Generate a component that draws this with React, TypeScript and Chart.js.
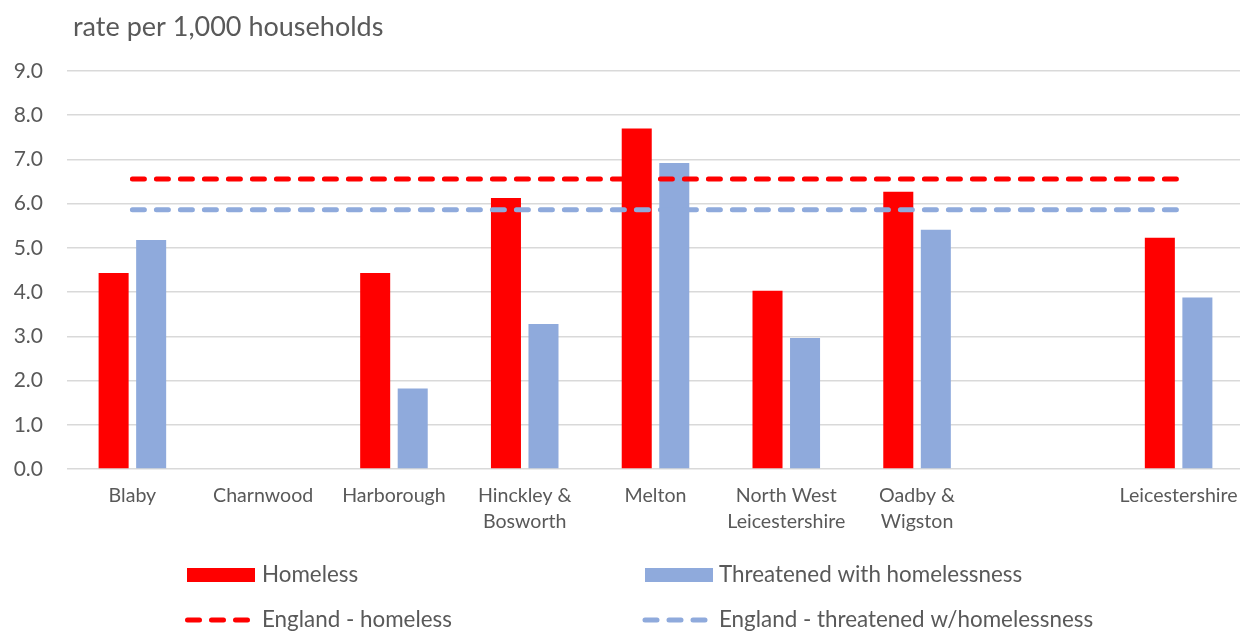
import React, { useEffect, useRef } from "react";
import { Chart, registerables } from "chart.js";

Chart.register(...registerables);

const categories: string[][] = [
  ["Blaby"],
  ["Charnwood"],
  ["Harborough"],
  ["Hinckley &", "Bosworth"],
  ["Melton"],
  ["North West", "Leicestershire"],
  ["Oadby &", "Wigston"],
  [""],
  ["Leicestershire"],
];
const homeless: (number | null)[] = [4.43, null, 4.43, 6.13, 7.7, 4.03, 6.27, null, 5.23];
const threatened: (number | null)[] = [5.18, null, 1.82, 3.28, 6.92, 2.96, 5.41, null, 3.88];
const englandHomeless = 6.56;
const englandThreatened = 5.86;
const yTicks = [0, 1, 2, 3, 4, 5, 6, 7, 8, 9];
const titleText = "rate per 1,000 households";
const legendLabels = ["Homeless", "Threatened with homelessness", "England - homeless", "England - threatened w/homelessness"];

const RED = "#FF0000";
const BLUE = "#8FAADC";
const TEXT = "#595959";
const FONT = "Lato";

export default function App() {
  const ref = useRef<HTMLCanvasElement>(null);
  useEffect(() => {
    if (!ref.current) return;
    const overlay = {
      id: "overlay",
      afterDraw(chart: any) {
        const ctx = chart.ctx as CanvasRenderingContext2D;
        ctx.save();
        ctx.fillStyle = TEXT;
        ctx.textBaseline = "middle";
        ctx.textAlign = "left";
        ctx.font = `27px ${FONT}`;
        ctx.fillText(titleText, 73, 27);
        ctx.font = `22.4px ${FONT}`;
        // row 1 boxes
        ctx.fillStyle = RED;
        ctx.fillRect(187, 568, 68, 14);
        ctx.fillStyle = BLUE;
        ctx.fillRect(645, 568, 68, 14);
        ctx.fillStyle = TEXT;
        ctx.fillText(legendLabels[0], 262, 575);
        ctx.fillText(legendLabels[1], 719, 575);
        // row 2 dashed
        ctx.lineWidth = 5;
        ctx.lineCap = "round";
        ctx.setLineDash([12, 12]);
        ctx.strokeStyle = RED;
        ctx.beginPath();
        ctx.moveTo(187.5, 620);
        ctx.lineTo(248, 620);
        ctx.stroke();
        ctx.strokeStyle = BLUE;
        ctx.beginPath();
        ctx.moveTo(645, 620);
        ctx.lineTo(705.5, 620);
        ctx.stroke();
        ctx.setLineDash([]);
        ctx.fillText(legendLabels[2], 262, 620);
        ctx.fillText(legendLabels[3], 719, 620);
        ctx.restore();
      },
    };
    const chart = new Chart(ref.current, {
      type: "bar",
      data: {
        labels: categories,
        datasets: [
          {
            type: "line",
            label: legendLabels[2],
            data: categories.map(() => englandHomeless),
            borderColor: RED,
            borderWidth: 5,
            borderDash: [12, 12],
            borderCapStyle: "round",
            pointRadius: 0,
            order: 0,
          },
          {
            type: "line",
            label: legendLabels[3],
            data: categories.map(() => englandThreatened),
            borderColor: BLUE,
            borderWidth: 5,
            borderDash: [12, 12],
            borderCapStyle: "round",
            pointRadius: 0,
            order: 0,
          },
          {
            type: "bar",
            label: legendLabels[0],
            data: homeless,
            backgroundColor: RED,
            categoryPercentage: 0.574,
            barPercentage: 0.8,
            order: 1,
          },
          {
            type: "bar",
            label: legendLabels[1],
            data: threatened,
            backgroundColor: BLUE,
            categoryPercentage: 0.574,
            barPercentage: 0.8,
            order: 1,
          },
        ] as any,
      },
      options: {
        animation: false,
        responsive: false,
        devicePixelRatio: 1,
        layout: { padding: { top: 71, left: 0, right: 0, bottom: 0 } },
        plugins: { legend: { display: false }, tooltip: { enabled: false }, title: { display: false } },
        scales: {
          x: {
            grid: { display: false, drawTicks: false },
            border: { display: false },
            ticks: {
              color: TEXT,
              font: { family: FONT, size: 19.6, lineHeight: 26 / 19.6 },
              padding: 14,
              maxRotation: 0,
              autoSkip: false,
            },
            afterFit: (s: any) => {
              s.height = 163;
              s.paddingLeft = 0;
              s.paddingRight = 0;
            },
          },
          y: {
            min: 0,
            max: 9,
            afterBuildTicks: (s: any) => {
              s.ticks = yTicks.map((v) => ({ value: v }));
            },
            grid: { color: "#D9D9D9", lineWidth: 1.5, drawTicks: false },
            border: { display: false },
            ticks: {
              color: TEXT,
              font: { family: FONT, size: 21 },
              padding: 24,
              callback: (v: any) => Number(v).toFixed(1),
            },
            afterFit: (s: any) => {
              s.width = 67;
              s.paddingTop = 0;
              s.paddingBottom = 0;
            },
          },
        },
      },
      plugins: [overlay],
    });
    return () => chart.destroy();
  }, []);
  return (
    <div style={{ position: "fixed", left: 0, top: 0, width: 1240, height: 632, overflow: "hidden", background: "#fff" }}>
      <canvas ref={ref} width={1244} height={632} style={{ display: "block", width: 1244, height: 632 }} />
    </div>
  );
}
